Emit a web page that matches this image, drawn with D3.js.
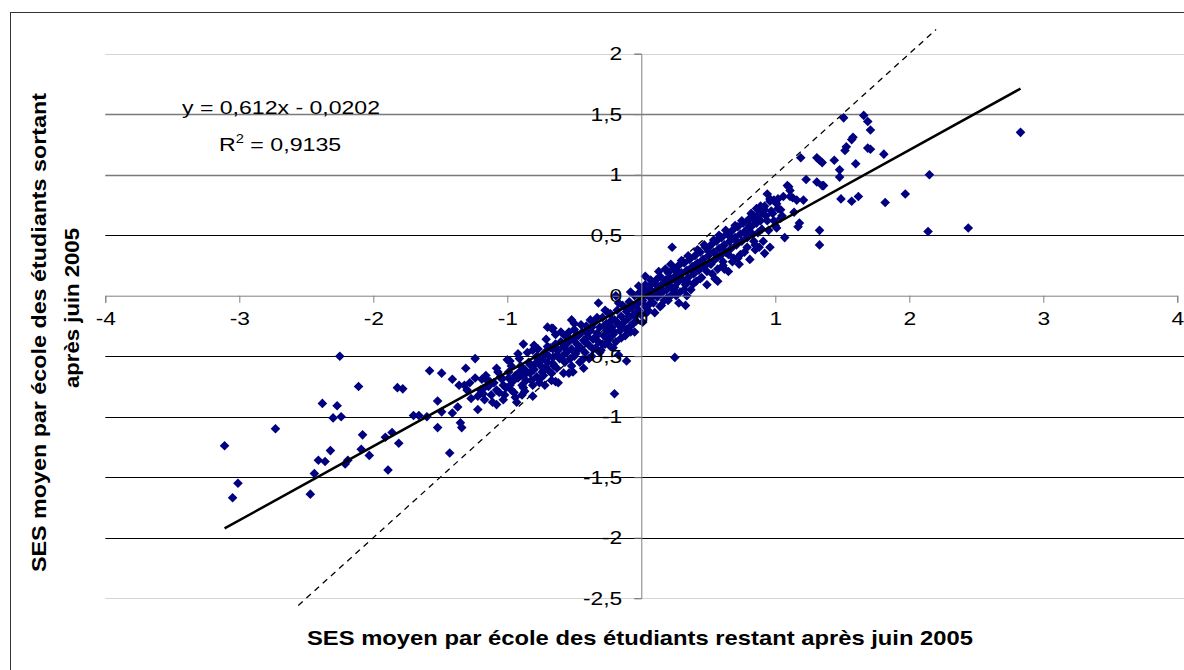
<!DOCTYPE html>
<meta charset="utf-8">
<style>
body { margin: 0; background: #fff; }
text { font-family: Arial, "Liberation Sans", sans-serif; fill: #000; }
.title { font-weight: bold; font-size: 21px; }
</style>
<body>
<script src="https://d3js.org/d3.v7.min.js"></script>
<script>
// axis settings
var xTicks = [-4, -3, -2, -1, 0, 1, 2, 3, 4];
var yTicks = [2, 1.5, 1, 0.5, 0, -0.5, -1, -1.5, -2, -2.5];
var xTitle = "SES moyen par école des étudiants restant après juin 2005";
var yTitle1 = "SES moyen par école des étudiants sortant";
var yTitle2 = "après juin 2005";
var eqText = "y = 0,612x - 0,0202";
var r2Text = "R", r2Value = " = 0,9135";
var slope = 0.612, intercept = -0.0202;
var diagRange = [-2.56, 2.2];

// schools: [SES restant, SES sortant]
var ptsLeft = [
  [-3.11,-1.24],[-3.05,-1.67],[-3.01,-1.55],[-2.73,-1.10],[-2.47,-1.64],[-2.44,-1.47],
  [-2.41,-1.36],[-2.38,-0.89],[-2.36,-1.37],[-2.32,-1.28],[-2.30,-1.01],[-2.27,-0.91],
  [-2.25,-0.50],[-2.24,-1.00],[-2.21,-1.39],[-2.19,-1.36],[-2.11,-0.75],[-2.09,-1.27],
  [-2.08,-1.15],[-2.03,-1.32],[-1.91,-1.17],[-1.89,-1.44],[-1.86,-1.13],[-1.82,-0.76],
  [-1.81,-1.22],[-1.78,-0.77],[-1.70,-0.99],[-1.66,-0.99],[-1.60,-1.00],[-1.58,-0.62],
  [-1.52,-0.87],[-1.52,-1.09],[-1.49,-0.64],[-1.49,-0.96],[-1.43,-1.30],[-1.41,-0.69],
  [-1.41,-0.97],[-1.37,-0.92],[-1.36,-0.74],[-1.35,-1.05],[-1.34,-1.09],[-1.31,-0.60],
  [-1.30,-0.78],[-1.27,-0.85],[-1.24,-0.52],[-1.22,-0.94],[-1.22,-0.83],[-1.19,-0.69],
  [-1.18,-0.81],[-1.15,-0.70],[-1.08,-0.60],[-1.08,-0.90],[-1.00,-0.53],[-0.98,-0.54],
  [-0.93,-0.88],[-0.92,-0.48],[-0.88,-0.40],[-0.81,-0.45],[-0.81,-0.83],[-0.80,-0.41],
  [-0.71,-0.36],[-0.67,-0.27],[-0.64,-0.32],[-1.13,-0.71],[-1.08,-0.78],[-1.03,-0.74],
  [-0.99,-0.68],[-0.94,-0.66],[-0.91,-0.63],[-0.87,-0.61],[-0.83,-0.57],[-0.77,-0.53],
  [-0.73,-0.50],[-0.71,-0.59],[-0.66,-0.56],[-0.63,-0.49],[-1.02,-0.82],[-0.97,-0.78],
  [-0.89,-0.74],[-0.86,-0.70],[-0.78,-0.67],[-0.74,-0.63],[-0.67,-0.64],[-0.89,-0.82],
  [-1.05,-0.67],[-1.18,-0.77],[-1.24,-0.68],[-1.28,-0.72],[-1.32,-0.74]
];
var ptsMidLow = [
  [-1.20,-0.78],[-1.17,-0.86],[-1.14,-0.75],[-1.12,-0.82],[-1.10,-0.72],[-1.06,-0.80],
  [-1.04,-0.69],[-1.01,-0.76],[-0.99,-0.63],[-0.96,-0.71],[-0.95,-0.80],[-0.92,-0.68],
  [-0.90,-0.58],[-0.88,-0.76],[-0.86,-0.64],[-0.84,-0.55],[-0.82,-0.70],[-0.80,-0.61],
  [-0.78,-0.50],[-0.76,-0.72],[-0.75,-0.58],[-0.73,-0.66],[-0.72,-0.47],[-0.70,-0.55],
  [-0.69,-0.62],[-0.68,-0.43],[-0.66,-0.51],[-0.65,-0.58],[-0.64,-0.40],
  [-0.64,-0.71],[-0.62,-0.72],[-0.54,-0.64],[-0.51,-0.63],[-0.43,-0.60],[-0.21,-0.43],
  [-0.17,-0.49],[-0.11,-0.54],[-0.08,-0.30],[-0.20,-0.81],[-0.32,-0.06],[-0.27,-0.12],
  [-0.52,-0.20],[-0.50,-0.23],[-0.38,-0.20],[-0.66,-0.27],[-0.70,-0.26],[-0.19,0.00]
];
var ptsCenter = [
  [-0.62,-0.45],[-0.60,-0.38],[-0.59,-0.50],[-0.58,-0.42],[-0.57,-0.33],[-0.56,-0.47],
  [-0.55,-0.39],[-0.54,-0.30],[-0.53,-0.52],[-0.52,-0.44],[-0.51,-0.36],[-0.50,-0.28],
  [-0.49,-0.48],[-0.48,-0.40],[-0.47,-0.33],[-0.46,-0.55],[-0.45,-0.43],[-0.44,-0.30],
  [-0.43,-0.37],[-0.42,-0.47],[-0.41,-0.25],[-0.40,-0.34],[-0.39,-0.41],[-0.38,-0.29],
  [-0.37,-0.50],[-0.36,-0.36],[-0.35,-0.22],[-0.34,-0.43],[-0.33,-0.31],[-0.32,-0.38],
  [-0.31,-0.26],[-0.30,-0.45],[-0.29,-0.18],[-0.28,-0.33],[-0.27,-0.40],[-0.26,-0.23],
  [-0.25,-0.29],[-0.24,-0.36],[-0.23,-0.15],[-0.22,-0.26],[-0.21,-0.32],[-0.20,-0.20],
  [-0.19,-0.38],[-0.18,-0.12],[-0.17,-0.24],[-0.16,-0.29],[-0.15,-0.17],[-0.14,-0.08],
  [-0.13,-0.22],[-0.12,-0.33],[-0.11,-0.13],[-0.10,-0.19],[-0.09,-0.05],[-0.08,-0.25],
  [-0.07,-0.10],[-0.06,-0.16],[-0.05,0.00],[-0.04,-0.21],[-0.03,-0.07],[-0.02,-0.12],
  [-0.01,0.03],[0.00,-0.16],[0.01,-0.04],[0.02,0.05],[0.03,-0.09],[0.04,0.01],
  [0.05,-0.12],[0.06,0.06],[0.07,-0.02],[0.08,0.10],[0.09,-0.06],[0.10,0.03],
  [0.11,0.13],[0.12,-0.01],[0.13,0.07],[0.14,0.16],[0.15,0.02],[0.16,0.10],
  [0.17,-0.04],[0.18,0.13],[0.19,0.05],[0.20,0.19],[0.21,0.09],[0.22,0.00],
  [0.23,0.14],[0.24,0.22],[0.25,0.07],[0.26,0.17],[0.27,0.11],[0.28,0.25],
  [0.29,0.03],[0.30,0.19],[0.31,0.13],[0.32,0.27],[0.33,0.09],[0.34,0.21],
  [0.35,0.15],[0.36,0.30],[0.37,0.05],[0.38,0.24],[0.39,0.18],[0.40,0.33],
  [0.41,0.12],[0.42,0.27],[0.43,0.21],[0.44,0.36],[0.45,0.15],[0.46,0.30],
  [0.47,0.24],[0.48,0.40],[0.49,0.09],[0.50,0.33],[0.51,0.27],[0.52,0.42],
  [0.53,0.18],[0.54,0.36],[0.55,0.30],[0.56,0.45],[0.57,0.22],[0.58,0.39],
  [0.59,0.33],[0.60,0.48],[0.23,0.40],[0.03,0.16],[0.34,0.00],[0.33,-0.08],
  [0.28,-0.06],[0.14,-0.09],[0.25,-0.51],[0.57,0.12],[0.20,-0.04]
];
var ptsBand = [
  [-1.16,-0.66],[-1.11,-0.88],[-1.07,-0.63],[-1.03,-0.86],[-0.98,-0.74],[-0.97,-0.58],
  [-0.94,-0.84],[-0.91,-0.52],[-0.89,-0.66],[-0.87,-0.79],[-0.85,-0.47],[-0.83,-0.64],
  [-0.81,-0.74],[-0.79,-0.56],[-0.77,-0.44],[-0.75,-0.68],[-0.74,-0.53],[-0.72,-0.74],
  [-0.70,-0.42],[-0.69,-0.50],[-0.67,-0.70],[-0.66,-0.44],[-0.63,-0.60],[-0.61,-0.52],
  [-0.60,-0.30],[-0.58,-0.64],[-0.57,-0.55],[-0.55,-0.46],[-0.53,-0.36],[-0.52,-0.58],
  [-0.50,-0.50],[-0.48,-0.32],[-0.47,-0.44],[-0.45,-0.24],[-0.44,-0.53],[-0.42,-0.38],
  [-0.41,-0.30],[-0.39,-0.52],[-0.37,-0.26],[-0.36,-0.44],[-0.34,-0.34],[-0.33,-0.18],
  [-0.31,-0.47],[-0.29,-0.40],[-0.28,-0.25],[-0.26,-0.34],[-0.25,-0.14],[-0.23,-0.42],
  [-0.22,-0.20],[-0.20,-0.30],[-0.18,-0.22],[-0.17,-0.06],[-0.15,-0.35],[-0.14,-0.26],
  [-0.12,-0.10],[-0.11,-0.28],[-0.09,-0.17],[-0.08,0.03],[-0.06,-0.23],[-0.05,-0.30],
  [-0.03,-0.14],[-0.02,0.08],[0.00,-0.02],[0.01,-0.22],[0.03,0.09],[0.04,-0.14],
  [0.06,-0.07],[0.07,0.13],[0.09,0.02],[0.10,-0.14],[0.12,0.08],[0.13,0.20],
  [0.15,-0.08],[0.16,0.04],[0.18,0.22],[0.19,-0.02],[0.21,0.15],[0.22,0.26],
  [0.24,0.05],[0.26,0.00],[0.27,0.20],[0.29,0.14],[0.30,0.29],[0.32,0.05],
  [0.34,0.12],[0.35,0.33],[0.37,0.22],[0.39,0.10],[0.40,0.25],[0.42,0.38],
  [0.44,0.14],[0.45,0.28],[0.47,0.42],[0.49,0.20],[0.50,0.37],[0.52,0.26],
  [0.54,0.46],[0.55,0.14],[0.57,0.32],[0.58,0.50],[0.60,0.40],[0.62,0.22],
  [0.63,0.54],[0.65,0.34],[0.67,0.48],[0.68,0.28],[0.70,0.58],[0.72,0.44],
  [0.74,0.34],[0.75,0.62],[0.77,0.52],[0.79,0.40],[0.80,0.55],[0.82,0.68],
  [0.84,0.45],[0.86,0.72],[0.87,0.52],[0.89,0.62],[0.91,0.45],[0.93,0.66],
  [0.95,0.54],[0.97,0.70],[0.99,0.62],[1.02,0.80],[1.05,0.66]
];
var ptsRight = [
  [0.61,0.28],[0.62,0.42],[0.63,0.36],[0.64,0.51],[0.65,0.20],[0.66,0.45],
  [0.67,0.39],[0.68,0.54],[0.69,0.31],[0.70,0.48],[0.71,0.42],[0.72,0.57],
  [0.73,0.26],[0.74,0.51],[0.75,0.45],[0.76,0.60],[0.77,0.36],[0.78,0.54],
  [0.79,0.48],[0.80,0.63],[0.81,0.30],[0.82,0.57],[0.83,0.51],[0.84,0.66],
  [0.85,0.42],[0.86,0.60],[0.88,0.70],[0.90,0.55],[0.92,0.74],[0.94,0.62],
  [0.96,0.78],[0.98,0.68],[1.00,0.58],[1.02,0.72],[1.04,0.64],
  [1.51,1.47],[1.66,1.49],[1.69,1.44],[1.71,1.37],[1.58,1.31],[1.57,1.29],
  [1.53,1.23],[1.52,1.20],[1.69,1.22],[1.19,1.14],[1.31,1.14],[1.33,1.12],
  [1.35,1.10],[1.44,1.12],[1.60,1.09],[1.48,1.04],[1.48,0.98],[1.23,0.96],
  [1.31,0.94],[1.35,0.91],[1.36,0.91],[1.09,0.91],[1.11,0.87],[1.06,0.82],
  [1.13,0.81],[1.16,0.79],[0.94,0.84],[0.96,0.80],[0.99,0.79],[1.01,0.76],
  [1.04,0.71],[1.21,0.79],[1.49,0.80],[1.57,0.78],[1.62,0.82],[1.14,0.69],
  [1.18,0.60],[1.17,0.57],[1.33,0.54],[1.33,0.42],[1.07,0.48],[1.01,0.56],
  [0.92,0.35],[0.96,0.40],[0.88,0.40],[0.85,0.38],[0.72,0.31],[0.61,0.25],
  [1.71,1.21],[1.81,1.17],[2.83,1.35],[2.15,1.00],[1.82,0.77],[1.97,0.84],
  [2.14,0.53],[2.44,0.56],[0.89,0.74],[0.92,0.71],[0.90,0.68],[0.86,0.65],
  [0.84,0.63],[0.81,0.58],[1.10,0.90],[1.11,0.82]
];
var points = ptsLeft.concat(ptsMidLow, ptsCenter, ptsBand, ptsRight);

var W = 1184, H = 670;
var svg = d3.select("body").append("svg")
    .attr("width", W)
    .attr("height", H);

// outer frame
svg.append("rect")
    .attr("x", 10.5).attr("y", 12.5)
    .attr("width", 1200).attr("height", 700)
    .attr("fill", "none").attr("stroke", "#333");

var x = d3.scaleLinear().domain([-4, 4]).range([105.3, 1177.3]);
var y = d3.scaleLinear().domain([-2.5, 2]).range([598.2, 53.7]);
var fmt = function(d) { return String(d).replace(".", ","); };

// stretch text horizontally like the original picture
function stretch(sel, k) {
    sel.each(function() {
        var n = this.getComputedTextLength();
        d3.select(this).attr("textLength", n * k).attr("lengthAdjust", "spacingAndGlyphs");
    });
}

// gridlines
function gridColor(d) {
    if (d === 2 || d === -2.5) return "#d4d4d4";
    if (d === 1.5 || d === 1) return "#7a7a7a";
    return "#000";
}
svg.append("g").selectAll("line")
    .data(yTicks.filter(function(d) { return d !== 0; }))
  .enter().append("line")
    .attr("x1", x(-4)).attr("x2", 1184)
    .attr("y1", function(d) { return Math.round(y(d)) + 0.5; })
    .attr("y2", function(d) { return Math.round(y(d)) + 0.5; })
    .attr("stroke", gridColor)
    .attr("stroke-width", function(d) { return (d === 1.5 || d === 1) ? 1.6 : 1; });

// dashed y = x line
svg.append("line")
    .attr("x1", x(diagRange[0])).attr("y1", y(diagRange[0]))
    .attr("x2", x(diagRange[1])).attr("y2", y(diagRange[1]))
    .attr("stroke", "#000").attr("stroke-width", 1.3)
    .attr("stroke-dasharray", "6,5");

// points
var diamond = "M0,-4.8L4.8,0L0,4.8L-4.8,0Z";
svg.append("g").selectAll("path")
    .data(points)
  .enter().append("path")
    .attr("d", diamond)
    .attr("transform", function(d) { return "translate(" + x(d[0]) + "," + y(d[1]) + ")"; })
    .attr("fill", "#000080");

// trend line
var xs = d3.extent(points, function(d) { return d[0]; });
svg.append("line")
    .attr("x1", x(xs[0])).attr("y1", y(slope * xs[0] + intercept))
    .attr("x2", x(xs[1])).attr("y2", y(slope * xs[1] + intercept))
    .attr("stroke", "#000").attr("stroke-width", 2.5);

// x axis (at y = 0)
var xAxis = d3.axisBottom(x).tickValues(xTicks).tickSize(7).tickPadding(9).tickFormat(fmt);
var gx = svg.append("g")
    .attr("transform", "translate(0," + y(0) + ")")
    .call(xAxis);

// y axis (at x = 0)
var yAxis = d3.axisLeft(y).tickValues(yTicks).tickSize(7).tickPadding(12).tickFormat(fmt);
var gy = svg.append("g")
    .attr("transform", "translate(" + x(0) + ",0)")
    .call(yAxis);

[gx, gy].forEach(function(g) {
    g.select(".domain").attr("stroke", "#808080");
    g.selectAll(".tick line").attr("stroke", "#808080");
    g.selectAll("text")
        .attr("font-family", null)
        .style("font-size", "19px")
        .attr("fill", "#000");
    stretch(g.selectAll("text"), 1.2);
});

// equation
svg.append("text")
    .attr("x", 182).attr("y", 114)
    .attr("textLength", 198).attr("lengthAdjust", "spacingAndGlyphs")
    .style("font-size", "19px")
    .text(eqText);
var r2 = svg.append("text")
    .attr("x", 219).attr("y", 151)
    .style("font-size", "19px");
r2.append("tspan").text(r2Text);
r2.append("tspan").attr("dy", -8).style("font-size", "12px").text("2");
r2.append("tspan").attr("dy", 8).text(r2Value);
stretch(r2, 1.22);

// axis titles
svg.append("text")
    .attr("class", "title")
    .attr("x", 307).attr("y", 645)
    .attr("textLength", 666).attr("lengthAdjust", "spacingAndGlyphs")
    .text(xTitle);
svg.append("text")
    .attr("class", "title")
    .attr("transform", "translate(46,572) rotate(-90)")
    .attr("textLength", 479).attr("lengthAdjust", "spacingAndGlyphs")
    .text(yTitle1);
svg.append("text")
    .attr("class", "title")
    .attr("transform", "translate(79,388) rotate(-90)")
    .attr("textLength", 160).attr("lengthAdjust", "spacingAndGlyphs")
    .text(yTitle2);
</script>
</body>
